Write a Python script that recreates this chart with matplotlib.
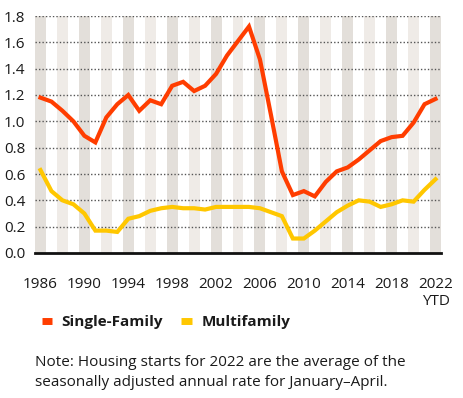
import numpy as np
import matplotlib.pyplot as plt
from matplotlib.lines import Line2D

plt.rcParams['font.family'] = ['Open Sans', 'DejaVu Sans']

years = list(range(1986, 2023))
single_family = [1.18, 1.15, 1.08, 1.00, 0.89, 0.84, 1.03, 1.13, 1.20, 1.08,
                 1.16, 1.13, 1.27, 1.30, 1.23, 1.27, 1.36, 1.50, 1.61, 1.72,
                 1.47, 1.05, 0.62, 0.44, 0.47, 0.43, 0.54, 0.62, 0.65, 0.71,
                 0.78, 0.85, 0.88, 0.89, 0.99, 1.13, 1.17]
multifamily = [0.63, 0.47, 0.40, 0.37, 0.30, 0.17, 0.17, 0.16, 0.26, 0.28,
               0.32, 0.34, 0.35, 0.34, 0.34, 0.33, 0.35, 0.35, 0.35, 0.35,
               0.34, 0.31, 0.28, 0.11, 0.11, 0.17, 0.24, 0.31, 0.36, 0.40,
               0.39, 0.35, 0.37, 0.40, 0.39, 0.48, 0.56]
xtick_years = [1986, 1990, 1994, 1998, 2002, 2006, 2010, 2014, 2018, 2022]
xtick_labels = ['1986', '1990', '1994', '1998', '2002', '2006', '2010', '2014', '2018', '2022\nYTD']
yticks = [0.0, 0.2, 0.4, 0.6, 0.8, 1.0, 1.2, 1.4, 1.6, 1.8]

red = '#ff3d00'
yellow = '#ffc700'
txt = '#1a1a1a'

fig = plt.figure(figsize=(4.63, 3.98), dpi=100)
ax = fig.add_axes([35/463, 1-253/398, 406/463, 237/398])

# alternating year bands
for yr in years:
    k = yr - years[0]
    if k % 2 == 0:
        c = '#e3dfda' if k % 4 == 0 else '#efebe7'
        ax.axvspan(yr - 0.5, yr + 0.5, color=c, lw=0, zorder=0)

for v in yticks[1:]:
    ax.axhline(v, color='#555555', lw=1.0, ls=(0, (1, 1.5)), zorder=1)

ax.plot(years, single_family, color=red, lw=3, zorder=3, solid_joinstyle='miter')
ax.plot(years, multifamily, color=yellow, lw=3, zorder=3, solid_joinstyle='miter')

ax.set_xlim(1985.5, 2022.5)
ax.set_ylim(0, 1.8)
ax.set_yticks(yticks)
ax.set_yticklabels(['%.1f' % v for v in yticks])
ax.set_xticks(xtick_years)
ax.set_xticklabels(xtick_labels, linespacing=1.25)
ax.tick_params(axis='both', length=0, labelsize=11, colors=txt)
ax.tick_params(axis='x', pad=17)
ax.tick_params(axis='y', pad=7)
for s in ['top', 'right', 'left']:
    ax.spines[s].set_visible(False)
ax.spines['bottom'].set_color('#111111')
ax.spines['bottom'].set_linewidth(2)
ax.spines['bottom'].set_zorder(4)

handles = [Line2D([], [], color=red, lw=5, solid_capstyle='butt'),
           Line2D([], [], color=yellow, lw=5, solid_capstyle='butt')]
leg = fig.legend(handles, ['Single-Family', 'Multifamily'], loc='center left',
                 bbox_to_anchor=(28/463, 1-322/398), ncol=2, frameon=False,
                 handlelength=0.7, handletextpad=0.6, columnspacing=1.2,
                 prop={'weight': 'bold', 'size': 11})
for t in leg.get_texts():
    t.set_color(txt)

fig.text(35/463, 1-363/398, 'Note: Housing starts for 2022 are the average of the',
         fontsize=11, color=txt, va='center')
fig.text(35/463, 1-383/398, 'seasonally adjusted annual rate for January\u2013April.',
         fontsize=11, color=txt, va='center')

fig.savefig('out.png', dpi=100, facecolor='white')
